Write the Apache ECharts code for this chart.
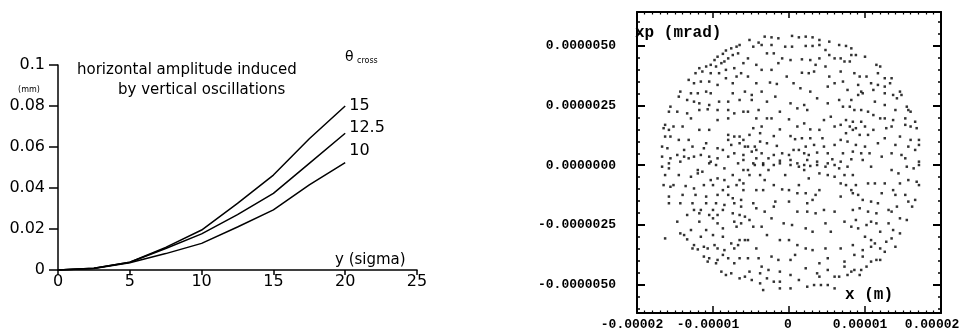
<!DOCTYPE html>
<html><head><meta charset="utf-8">
<script src="https://cdn.jsdelivr.net/npm/echarts@6/dist/echarts.min.js"></script>
<style>html,body{margin:0;padding:0;background:#fff}#c{width:959px;height:330px}</style>
</head><body><div id="c"></div>
<script>
// ---- left chart data ----
const sigma = [0, 2.5, 5, 7.5, 10, 12.5, 15, 17.5, 20];
const amp15  = [0, 0.0008, 0.0038, 0.0110, 0.0195, 0.0325, 0.0463, 0.0640, 0.0800];
const amp125 = [0, 0.0008, 0.0038, 0.0105, 0.0176, 0.0270, 0.0374, 0.0520, 0.0667];
const amp10  = [0, 0.0007, 0.0035, 0.0080, 0.0130, 0.0210, 0.0293, 0.0415, 0.0524];
const crossNames = ['15', '12.5', '10'];
// ---- right chart ticks ----
const xTickValues = [-2e-5, -1e-5, 0, 1e-5, 2e-5];
const xTickTexts = ['-0.00002', '-0.00001', '0', '0.00001', '0.00002'];
const ypTickValues = [-5e-6, -2.5e-6, 0, 2.5e-6, 5e-6];
const ypTickTexts = ['-0.0000050', '-0.0000025', '0.0000000', '0.0000025', '0.0000050'];
// ---- right chart points: x in 1e-6 m, xp in 1e-7 mrad ----
const phasePoints = [
[-6.5,50.3],[-6.9,49.6],[-7.6,48.9],[-8.3,48.0],[-6.7,46.8],[-8.7,46.6],[-7.4,46.1],[-9.4,45.4],[-8.0,44.7],[-9.8,44.0],[-8.5,43.4],[-8.9,42.7],[-6.0,42.7],[-10.3,42.0],[-10.9,41.3],[-9.6,41.3],[-7.2,40.6],[-11.8,40.6],[-8.3,39.9],[-11.4,39.2],[-12.3,38.5],[-10.3,38.5],[-9.2,38.5],[-6.3,38.5],[-13.2,35.7],[-11.6,35.0],[-12.5,34.3],[-10.5,35.0],[-8.3,36.4],[-6.9,37.1],[-7.4,34.3],[-9.4,33.6],[-14.3,30.8],[-12.9,30.1],[-12.0,30.1],[-10.9,30.8],[-10.3,30.1],[-7.4,30.1],[-5.8,30.8],[-14.5,28.7],[-13.4,27.3],[-12.5,26.6],[-11.8,25.9],[-10.5,25.2],[-9.2,26.6],[-8.0,26.6],[-6.5,27.3],[-15.6,24.5],[-14.7,22.4],[-15.8,22.4],[-13.4,21.7],[-11.8,23.1],[-10.7,23.4],[-9.4,23.1],[-8.0,23.1],[-7.2,21.7],[-6.0,22.4],[-12.9,19.6],[-9.4,18.9],[-8.0,19.6],[-16.3,16.9],[-16.5,15.5],[-15.8,14.8],[-15.2,16.2],[-14.0,16.2],[-11.8,14.8],[-10.5,14.8],[-8.0,12.7],[-7.2,12.0],[-6.5,12.0],[-6.0,10.6],[-16.3,12.0],[-15.6,12.0],[-14.5,10.6],[-13.2,10.6],[-10.9,9.2],[-8.0,10.6],[-7.6,8.5],[-6.5,9.2],[-5.8,7.8],[-16.7,7.8],[-16.0,7.1],[-13.8,6.4],[-12.7,7.8],[-11.2,7.1],[-9.4,7.1],[-8.7,6.4],[-7.2,5.0],[-6.0,4.3],[-16.7,3.6],[-15.6,2.9],[-14.7,4.3],[-13.8,3.6],[-13.2,2.9],[-12.5,3.6],[-11.6,4.3],[-10.5,3.6],[-9.4,2.9],[-8.0,3.6],[-6.0,2.2],[-15.8,0.8],[-10.3,1.5],
[-5.2,52.4],[-4.0,51.3],[-3.2,53.8],[-2.3,53.5],[-1.4,53.1],[0.4,54.1],[1.3,53.5],[2.2,53.8],[3.1,53.5],[4.0,52.4],[5.3,51.7],
[-4.7,49.6],[-3.6,50.3],[-2.3,50.3],[-0.5,49.6],[0.4,49.6],[2.2,49.9],[3.1,49.9],[4.0,50.3],[4.8,48.2],
[-2.9,46.8],[-2.0,46.8],[-5.4,44.7],[-0.9,44.7],[0.2,44.0],[1.7,44.3],[2.8,44.0],[4.0,44.7],[5.3,46.1],[6.0,44.7],
[-1.4,42.7],[-4.3,42.0],[3.5,42.0],[4.8,41.3],[-3.6,39.9],[-2.3,39.9],[-0.3,37.1],[1.7,38.7],[2.6,38.5],[3.3,39.2],
[-5.4,37.1],[5.3,37.1],[-4.3,34.3],[-2.5,34.6],[-1.6,34.0],[0.6,34.3],[1.5,32.2],[2.8,30.8],[5.1,32.9],[6.0,34.3],
[-4.9,29.4],[-3.6,30.8],[-4.9,27.3],[-1.8,28.7],[-2.9,26.6],[0.2,25.9],[2.0,25.2],[3.7,28.0],[5.1,25.9],[1.1,23.8],[2.4,23.1],
[-4.0,23.1],[-5.4,22.4],[-1.2,22.4],[-4.3,19.6],[-2.9,19.6],[-2.3,19.6],[0.0,19.2],[4.6,18.9],[5.5,20.3],
[1.1,16.2],[2.0,17.5],[-4.7,15.5],[-3.6,16.2],[-1.2,15.0],[2.8,15.0],[4.0,14.8],[6.0,16.2],
[-5.2,12.7],[-3.8,13.4],[-2.0,12.2],[0.2,12.2],[0.8,10.9],[1.7,11.3],[2.8,11.3],[4.4,11.3],
[-3.8,9.9],[-5.4,7.8],[-4.5,7.8],[-2.9,9.2],[-1.6,8.1],[0.6,6.4],[1.3,6.4],[2.2,7.8],[3.3,8.5],[4.6,7.8],[6.0,8.5],
[-4.9,5.7],[-4.3,6.4],[-3.6,5.0],[-2.0,4.3],[-0.9,5.0],[0.0,4.3],[2.0,5.0],[2.6,4.3],[3.7,5.3],[5.1,5.0],
[-4.3,2.9],[-2.7,2.9],[-1.2,1.9],[0.2,2.2],[2.4,2.2],[3.7,1.5],[5.7,2.5],[-4.7,0.8],[-3.4,0.8],[1.1,0.8],[5.1,0.8],
[6.6,50.3],[7.5,49.9],[8.2,48.9],[6.8,44.7],[7.3,43.4],[8.2,46.1],[8.8,46.1],[10.0,45.4],[8.0,43.4],[11.5,42.0],[12.0,41.3],
[6.8,39.2],[8.6,38.5],[9.3,37.1],[10.2,37.1],[11.7,38.5],[12.6,36.4],[13.5,36.4],[7.1,35.0],[9.1,33.6],[10.8,34.3],[11.7,33.6],[13.3,34.3],
[14.6,30.8],[14.8,29.4],[7.7,31.5],[9.5,30.8],[11.1,31.5],[12.6,32.9],[12.6,30.1],[13.7,29.4],[14.2,28.0],
[6.6,27.3],[8.2,27.3],[9.1,29.4],[9.7,30.1],[11.3,26.6],[12.6,25.2],[14.0,23.1],[15.5,24.5],[15.7,23.1],[16.0,22.4],
[7.1,24.5],[8.0,24.5],[8.6,23.1],[9.5,23.1],[10.4,22.4],[11.1,21.0],[12.0,19.6],[12.6,19.6],[13.7,18.9],[15.3,19.6],[16.6,18.2],
[7.5,18.9],[8.4,18.2],[9.5,18.2],[6.8,16.9],[8.0,16.2],[8.8,15.5],[10.0,16.2],[11.1,14.8],[12.8,15.5],[13.5,16.2],[15.3,16.9],[16.0,16.2],[16.8,15.5],
[7.5,13.4],[8.4,14.8],[9.3,12.7],[10.4,12.7],[12.6,11.3],[14.6,12.0],[16.0,10.6],[17.1,10.6],
[6.8,10.6],[7.7,9.9],[8.8,8.5],[10.0,7.8],[11.7,9.2],[14.0,8.5],[15.7,7.8],[17.1,8.5],
[7.1,5.0],[8.4,5.7],[9.5,5.0],[10.6,5.0],[12.2,3.6],[13.5,5.0],[14.8,4.3],[15.3,2.9],[16.6,6.4],[6.8,1.5],[8.2,2.5],[9.7,2.2],[17.1,1.5],
[-16.7,-0.6],[-15.8,-1.3],[-14.3,1.5],[-12.0,-2.0],[-11.4,-2.7],[-10.5,0.8],[-9.6,0.1],[-8.5,-1.3],[-6.7,0.8],[-6.0,-2.0],
[-16.3,-4.1],[-14.5,-4.1],[-12.9,-4.8],[-12.0,-3.4],[-10.3,-6.2],[-9.4,-5.5],[-8.5,-6.2],[-7.4,-4.1],[-6.5,-6.2],[-6.0,-7.6],
[-16.5,-8.3],[-15.6,-9.0],[-15.2,-8.3],[-13.6,-8.7],[-12.5,-9.7],[-11.2,-8.3],[-10.0,-8.3],[-8.7,-10.4],[-8.0,-9.0],[-6.9,-8.3],[-6.0,-10.4],
[-15.8,-13.1],[-14.0,-12.4],[-12.3,-12.4],[-10.9,-13.1],[-9.4,-12.4],[-8.0,-12.4],[-7.4,-13.8],[-6.3,-14.5],
[-15.8,-15.9],[-14.3,-15.9],[-12.7,-15.9],[-10.9,-15.9],[-9.6,-15.9],[-8.5,-16.6],[-7.2,-15.9],[-6.3,-17.3],
[-12.5,-18.7],[-11.6,-18.7],[-10.0,-18.7],[-8.7,-18.7],[-13.4,-20.8],[-11.8,-20.1],[-10.5,-20.8],[-9.4,-20.8],[-7.4,-20.1],[-6.5,-20.8],
[-14.7,-23.6],[-11.8,-23.6],[-10.0,-22.2],[-9.4,-24.3],[-7.2,-23.6],[-6.3,-24.3],[-5.8,-21.5],
[-12.9,-27.1],[-10.9,-27.1],[-8.7,-26.4],[-6.9,-25.7],[-14.3,-28.5],[-13.8,-29.2],[-11.6,-29.9],[-10.0,-29.2],[-8.7,-29.9],
[-16.3,-30.6],[-13.4,-31.0],[-6.5,-31.3],[-5.8,-31.3],[-12.5,-33.4],[-11.2,-34.1],[-9.8,-33.4],[-7.6,-32.7],[-6.7,-33.4],
[-12.7,-34.8],[-12.0,-35.2],[-10.7,-34.8],[-9.4,-34.8],[-8.5,-35.5],[-7.2,-34.8],
[-11.2,-38.2],[-10.5,-38.9],[-9.4,-39.6],[-8.7,-37.5],[-8.0,-38.9],[-6.5,-38.9],[-10.7,-40.3],[-9.6,-41.0],[-7.2,-41.0],
[-8.9,-44.5],[-8.3,-45.9],[-7.6,-45.2],[-6.5,-47.3],[-5.8,-46.6],
[-5.4,-2.0],[-4.5,0.1],[-3.4,0.1],[-2.0,0.1],[-1.2,0.8],[0.2,0.1],[1.3,-0.6],[2.0,0.1],[2.8,-0.3],[3.7,0.1],[4.8,-0.6],[6.0,0.1],
[-5.2,-4.1],[-3.8,-4.1],[-2.7,-2.0],[-0.5,-4.1],[2.0,-2.0],[2.6,-5.5],[4.0,-3.4],[5.1,-4.1],[6.0,-4.8],
[-3.2,-6.2],[-2.0,-8.3],[1.3,-8.3],[-4.3,-10.4],[-3.4,-10.4],[-0.9,-10.1],[0.0,-10.4],[1.1,-11.7],[2.2,-11.7],[3.5,-12.4],[4.0,-10.4],
[-4.7,-15.9],[-1.8,-15.2],[0.0,-15.2],[2.4,-15.9],[3.1,-14.5],
[-4.3,-18.0],[-3.2,-19.4],[-2.0,-17.3],[1.1,-19.4],[2.4,-19.4],[3.5,-20.1],[4.6,-18.7],[6.0,-19.4],
[-5.2,-22.9],[-2.3,-22.2],[-0.7,-24.3],[0.4,-25.0],[2.2,-26.4],[4.8,-24.3],[-4.7,-25.7],[-3.6,-25.7],
[-2.9,-29.2],[-1.2,-31.3],[0.0,-31.3],[1.1,-33.4],[3.1,-27.8],[5.5,-27.8],
[-5.4,-31.3],[-4.3,-34.8],[2.2,-34.8],[3.1,-35.5],[4.8,-34.8],
[-5.4,-38.9],[-4.0,-38.9],[-2.3,-38.2],[-1.4,-39.6],[0.2,-39.6],[0.8,-37.5],[5.1,-38.9],[4.0,-41.0],
[-3.6,-42.4],[-2.7,-43.8],[-1.2,-44.5],[0.2,-45.9],[2.2,-43.1],[3.7,-45.2],[5.1,-43.8],
[-5.2,-44.5],[-3.8,-45.2],[-4.9,-48.0],[-3.8,-49.4],[-2.9,-47.3],[-2.0,-48.7],[-1.2,-48.7],[1.3,-48.0],[4.0,-46.6],[6.0,-46.6],
[-1.2,-51.5],[0.2,-51.5],[2.4,-50.8],[3.3,-50.1],[4.2,-50.1],[5.1,-50.1],[6.0,-51.5],[-3.4,-52.2],
[6.6,-1.3],[7.7,-0.6],[7.3,-4.1],[8.4,-4.1],[10.8,-0.6],[13.5,-2.0],[14.4,-3.4],[15.5,-0.6],[16.4,-1.3],[17.1,0.1],
[6.8,-7.6],[7.5,-8.3],[8.2,-10.4],[8.8,-8.3],[10.4,-7.6],[11.3,-7.6],[12.6,-7.6],[13.7,-10.4],[14.6,-7.6],[15.7,-6.2],[16.8,-6.9],[17.1,-8.3],
[8.4,-11.7],[9.1,-12.4],[12.2,-11.7],[14.0,-12.4],[15.3,-12.4],[6.8,-13.1],[9.7,-14.5],[10.8,-15.2],[11.7,-15.9],[13.1,-18.7],[13.5,-19.4],[15.7,-15.2],[16.6,-14.5],[16.2,-17.3],
[8.4,-18.7],[9.3,-18.0],[10.4,-19.4],[11.5,-20.1],[14.2,-17.3],[14.6,-22.2],[15.5,-22.9],
[7.3,-23.6],[8.8,-22.9],[10.8,-23.6],[11.5,-24.3],[13.1,-24.3],[13.7,-27.1],[14.6,-28.5],
[8.2,-25.7],[9.1,-26.4],[10.2,-25.0],[12.0,-27.8],[10.0,-29.9],[10.8,-31.3],[11.3,-32.7],[12.8,-32.0],[13.5,-30.6],[14.0,-34.1],
[6.8,-34.8],[8.4,-33.4],[9.7,-35.5],[10.8,-34.1],[12.0,-34.8],[12.6,-36.2],
[7.3,-40.3],[8.6,-37.5],[9.7,-38.2],[10.8,-40.3],[11.5,-39.6],[12.0,-39.6],
[8.2,-44.5],[9.5,-43.8],[10.2,-42.4],[6.6,-46.6],[7.7,-45.9],[8.6,-43.8],[7.3,-42.4],[9.3,-45.9]
];

const chart = echarts.init(document.getElementById('c'), null, {renderer: 'canvas'});
const FONT = 'DejaVu Sans';
const MONO = 'Liberation Mono';
const black = '#000';

function mkLine(name, vals, dy) {
  return {
    type: 'line', name: name, xAxisIndex: 0, yAxisIndex: 0,
    data: sigma.map((s, i) => [s, vals[i]]),
    showSymbol: false, symbol: 'none', smooth: false,
    lineStyle: {color: black, width: 1.5},
    endLabel: {show: true, formatter: name, color: black, fontFamily: FONT, fontSize: 16, distance: 4, offset: [0, dy]},
    silent: true
  };
}
const yMinorVals = [];
for (let k = -12; k <= 12; k++) yMinorVals.push(k * 0.5e-6);
const xLabelFmt = v => {
  const i = Math.round(v / 1e-5) + 2;
  const t = xTickTexts[i] !== undefined ? xTickTexts[i] : '';
  if (i === 4) return '{last|' + t + '}';
  if (i === 2) return '{mid|' + t + '}';
  return t;
};
const yLabelFmt = v => { const i = Math.round(v / 2.5e-6) + 2; return ypTickTexts[i] !== undefined ? ypTickTexts[i] : ''; };
const frameLine = {show: true, onZero: false, lineStyle: {color: black, width: 2}};
const rYMin = -6.18e-6, rYMax = 6.41e-6;
const monoLbl = {color: black, fontFamily: MONO, fontWeight: 'bold', fontSize: 13};

chart.setOption({
  animation: false,
  backgroundColor: '#fff',
  grid: [
    {left: 58, top: 65, width: 359, height: 205, containLabel: false, outerBoundsMode: 'none'},
    {left: 637, top: 12, width: 304, height: 301, containLabel: false, outerBoundsMode: 'none'}
  ],
  xAxis: [
    {gridIndex: 0, type: 'value', min: 0, max: 25, interval: 5,
     axisLine: {show: true, onZero: false, lineStyle: {color: black, width: 1.5}},
     axisTick: {show: true, inside: false, length: 5, lineStyle: {color: black, width: 1.5}},
     axisLabel: {color: black, fontFamily: FONT, fontSize: 16, margin: 4},
     splitLine: {show: false}},
    {gridIndex: 1, type: 'value', position: 'bottom', min: -2e-5, max: 2e-5, interval: 1e-5,
     axisLine: frameLine,
     axisTick: {show: true, inside: true, length: 7, lineStyle: {color: black, width: 1.5}},
     minorTick: {show: true, splitNumber: 10, length: 2.5, lineStyle: {color: black, width: 1.2}},
     axisLabel: Object.assign({}, monoLbl, {margin: 5, padding: [0, 10, 0, 0], formatter: xLabelFmt, showMinLabel: true, showMaxLabel: true,
       rich: {last: Object.assign({}, monoLbl, {padding: [0, 8, 0, 0]}), mid: Object.assign({}, monoLbl, {padding: [0, 0, 0, 8]})}}),
     splitLine: {show: false}},
    {gridIndex: 1, type: 'value', position: 'top', min: -2e-5, max: 2e-5, interval: 1e-5,
     axisLine: frameLine,
     axisTick: {show: true, inside: true, length: 6, lineStyle: {color: black, width: 1.5}},
     minorTick: {show: true, splitNumber: 10, length: 2.5, lineStyle: {color: black, width: 1.2}},
     axisLabel: {show: false}, splitLine: {show: false}}
  ],
  yAxis: [
    {gridIndex: 0, type: 'value', min: 0, max: 0.1, interval: 0.02,
     axisLine: {show: true, onZero: false, lineStyle: {color: black, width: 1.5}},
     axisTick: {show: true, inside: false, length: 9, lineStyle: {color: black, width: 1.5}},
     axisLabel: {color: black, fontFamily: FONT, fontSize: 16, margin: 13,
       formatter: v => (v === 0 ? '0' : (Math.abs(v - 0.1) < 1e-9 ? '0.1' : v.toFixed(2)))},
     splitLine: {show: false}},
    {gridIndex: 1, type: 'value', position: 'left', min: rYMin, max: rYMax,
     axisLine: frameLine,
     axisTick: {show: true, inside: true, length: 8, customValues: ypTickValues, lineStyle: {color: black, width: 2}},
     axisLabel: Object.assign({}, monoLbl, {margin: 21, customValues: ypTickValues, formatter: yLabelFmt}),
     splitLine: {show: false}},
    {gridIndex: 1, type: 'value', position: 'right', min: rYMin, max: rYMax,
     axisLine: frameLine,
     axisTick: {show: true, inside: true, length: 8, customValues: ypTickValues, lineStyle: {color: black, width: 2}},
     axisLabel: {show: false}, splitLine: {show: false}},
    {gridIndex: 1, type: 'value', position: 'left', min: rYMin, max: rYMax,
     axisLine: {show: false, onZero: false},
     axisTick: {show: true, inside: true, length: 3, customValues: yMinorVals, lineStyle: {color: black, width: 1.5}},
     axisLabel: {show: false}, splitLine: {show: false}},
    {gridIndex: 1, type: 'value', position: 'right', min: rYMin, max: rYMax,
     axisLine: {show: false, onZero: false},
     axisTick: {show: true, inside: true, length: 3, customValues: yMinorVals, lineStyle: {color: black, width: 1.5}},
     axisLabel: {show: false}, splitLine: {show: false}}
  ],
  series: [
    mkLine(crossNames[0], amp15, 0),
    mkLine(crossNames[1], amp125, -5),
    mkLine(crossNames[2], amp10, -12),
    {type: 'scatter', xAxisIndex: 1, yAxisIndex: 1,
     data: phasePoints.map(p => [p[0] * 1e-6, p[1] * 1e-7]),
     symbol: 'rect', symbolSize: 2.5, itemStyle: {color: black}, silent: true}
  ],
  graphic: [
    {type: 'text', style: {text: '(mm)', x: 29, y: 90, fontFamily: FONT, fontSize: 8, fill: black, align: 'center', verticalAlign: 'middle'}},
    {type: 'text', style: {text: 'horizontal amplitude induced', x: 77, y: 70, fontFamily: FONT, fontSize: 15, fill: black, align: 'left', verticalAlign: 'middle'}},
    {type: 'text', style: {text: 'by vertical oscillations', x: 118, y: 90, fontFamily: FONT, fontSize: 15, fill: black, align: 'left', verticalAlign: 'middle'}},
    {type: 'text', style: {text: 'θ', x: 345, y: 57, fontFamily: FONT, fontSize: 14, fill: black, align: 'left', verticalAlign: 'middle'}},
    {type: 'text', style: {text: 'cross', x: 357, y: 61, fontFamily: FONT, fontSize: 8, fill: black, align: 'left', verticalAlign: 'middle'}},
    {type: 'text', style: {text: 'y (sigma)', x: 335, y: 260, fontFamily: FONT, fontSize: 15, fill: black, align: 'left', verticalAlign: 'middle'}},
    {type: 'text', style: {text: 'xp (mrad)', x: 635, y: 33, fontFamily: MONO, fontWeight: 'bold', fontSize: 16, fill: black, align: 'left', verticalAlign: 'middle'}},
    {type: 'text', style: {text: 'x (m)', x: 845, y: 295, fontFamily: MONO, fontWeight: 'bold', fontSize: 16, fill: black, align: 'left', verticalAlign: 'middle'}}
  ]
});
</script>
</body></html>
